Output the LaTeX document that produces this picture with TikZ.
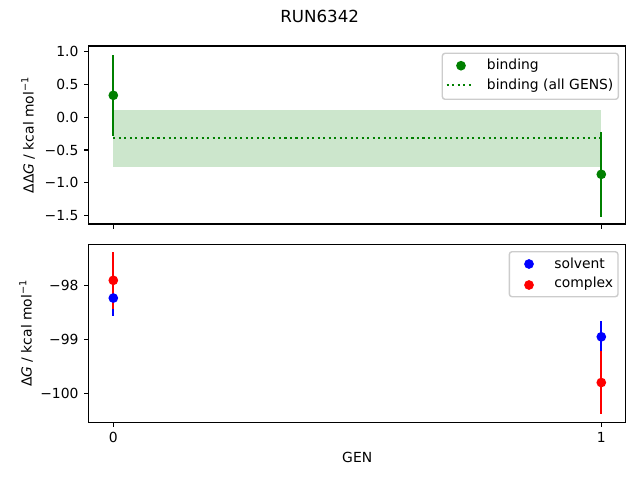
\documentclass[tikz,border=0pt]{standalone}
\usepackage{fontspec}
\setmainfont{DejaVu Sans}
\usepackage{xcolor}

\definecolor{plotgreen}{HTML}{008000}
\definecolor{bandgreen}{HTML}{CCE6CC}
\definecolor{legendedge}{HTML}{CCCCCC}

\begin{document}
\begin{tikzpicture}[x=0.72pt, y=-0.72pt, font=\fontsize{10}{12}\selectfont,
		axisframe/.style={draw=black, line width=0.8pt},
		tickmark/.style={line width=0.8pt},
		ticklabel/.style={inner sep=0pt},
		errbar/.style={line width=1.5pt},
		legendbox/.style={draw=legendedge, fill=white, line width=1pt, rounded corners=2pt},
		dotline/.style={plotgreen, line width=1.5pt, dash pattern=on 1.5pt off 2.475pt}]
	\useasboundingbox (0,0) rectangle (640,480);

	% upper panel: binding
	\begin{scope}[shift={(113.3,117.3)}, x=351.36pt, y=47.09pt]
		\fill[bandgreen] (0,-0.765) rectangle (1,0.11);
		\draw[dotline] (0,-0.31) -- (1,-0.31);
		\draw[errbar, plotgreen] (0,-0.281) -- (0,0.953);
		\draw[errbar, plotgreen] (1,-1.522) -- (1,-0.222);
		\fill[plotgreen] (0,0.336) circle[radius=3.5pt];
		\fill[plotgreen] (1,-0.872) circle[radius=3.5pt];
		\foreach \v/\t [count=\i] in {1/1.0, 0.5/0.5, 0/0.0, -0.5/−0.5, -1/−1.0, -1.5/−1.5}
			\draw[tickmark] (-0.0504,\v) -- ++(-3.5pt,0) node[ticklabel, left=3.5pt] (topy\i) {\t};
	\end{scope}
	\draw[axisframe] (88.7,46) rectangle (625.7,224);
	\foreach \x in {113.3, 601.3}
		\draw[tickmark] (\x,224) -- (\x,228.86);

	% lower panel: solvent and complex
	\begin{scope}[shift={(113.3,-4986.7)}, x=351.36pt, y=38.736pt]
		\draw[errbar, blue] (0,-98.56) -- (0,-97.90);
		\draw[errbar, blue] (1,-99.24) -- (1,-98.66);
		\draw[errbar, red] (0,-98.43) -- (0,-97.37);
		\draw[errbar, red] (1,-100.38) -- (1,-99.22);
		\fill[blue] (0,-98.23) circle[radius=3.5pt];
		\fill[blue] (1,-98.95) circle[radius=3.5pt];
		\fill[red] (0,-97.9) circle[radius=3.5pt];
		\fill[red] (1,-99.8) circle[radius=3.5pt];
		\foreach \v/\t [count=\i] in {-98/−98, -99/−99, -100/−100}
			\draw[tickmark] (-0.0504,\v) -- ++(-3.5pt,0) node[ticklabel, left=3.5pt] (boty\i) {\t};
	\end{scope}
	\draw[axisframe] (88.7,244.3) rectangle (625.7,422.3);
	\foreach \x/\t in {113.3/0, 601.3/1}
		\draw[tickmark] (\x,422.3) -- (\x,427.16) node[ticklabel, below=3.5pt] (genx\t) {\t};

	% labels
	\node[anchor=base, font=\fontsize{12}{14}\selectfont] (title) at (319.7,22.7) {RUN6342};
	\node[anchor=base] (xlabel) at (357.2,462.3) {GEN};
	\node[rotate=90, anchor=base] (ylabeltop) at (33.5,135) {ΔΔ\textit{G} / kcal mol\textsuperscript{−1}};
	\node[rotate=90, anchor=base] (ylabelbot) at (31.5,333.3) {Δ\textit{G} / kcal mol\textsuperscript{−1}};

	% legends
	\draw[legendbox] (442.3,53.3) rectangle (618.3,99.3);
	\fill[plotgreen] (461,65.7) circle[radius=3.5pt];
	\node[anchor=base west, inner sep=0pt] (legbind) at (486.7,69) {binding};
	\draw[dotline] (446.7,85) -- (474.3,85);
	\node[anchor=base west, inner sep=0pt] (legall) at (486.7,89) {binding (all GENS)};

	\draw[legendbox] (509.3,251.7) rectangle (618,296.7);
	\fill[blue] (529,264) circle[radius=3.5pt];
	\node[anchor=base west, inner sep=0pt] (legsolv) at (554,268.3) {solvent};
	\fill[red] (529,285) circle[radius=3.5pt];
	\node[anchor=base west, inner sep=0pt] (legcomp) at (554,287.5) {complex};
\end{tikzpicture}
\end{document}
